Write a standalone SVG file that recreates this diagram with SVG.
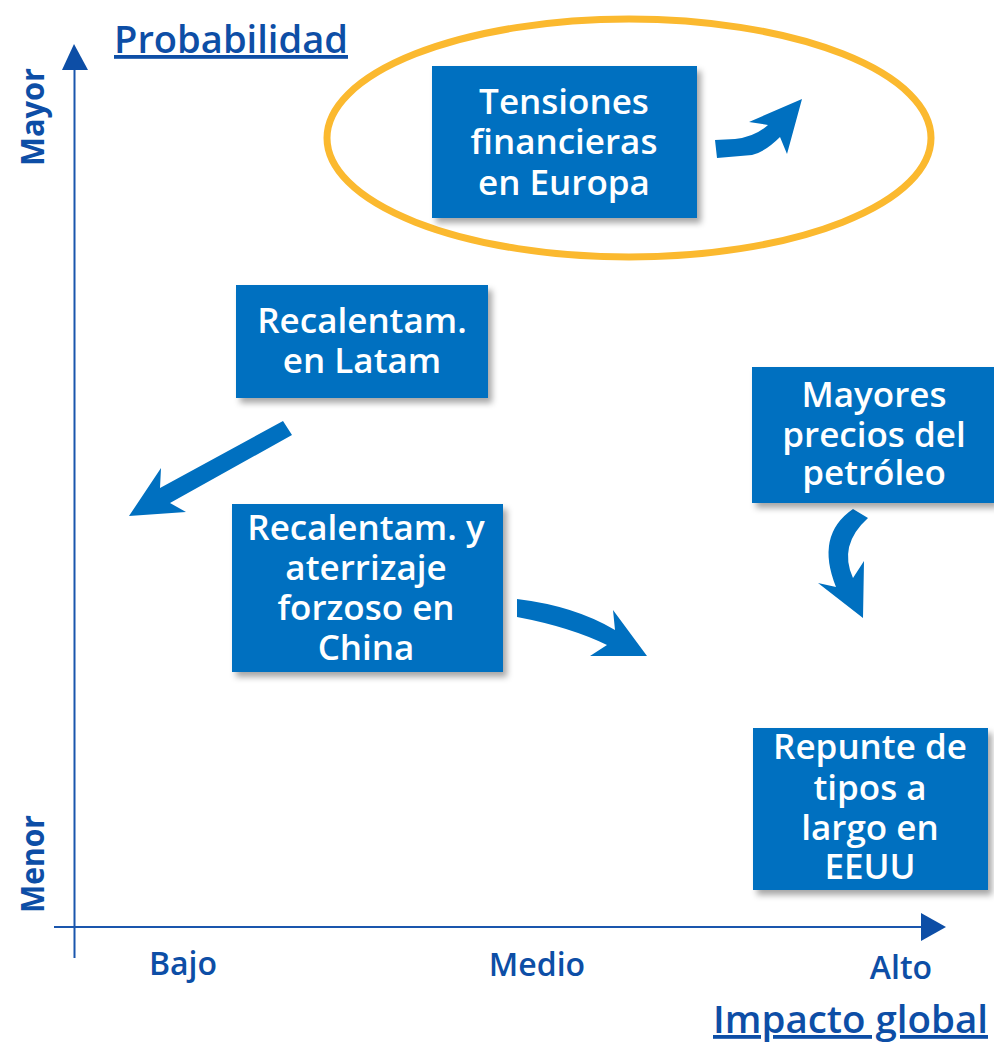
<svg xmlns="http://www.w3.org/2000/svg" width="994" height="1042" viewBox="0 0 994 1042">
<defs>
<style>
.box{fill:#0070C0;filter:url(#sh);}
.bt{font-family:"Open Sans","Noto Sans",sans-serif;font-weight:600;font-size:35px;fill:#ffffff;text-anchor:middle;}
.ax{font-family:"Open Sans","Noto Sans",sans-serif;font-weight:600;fill:#0D4EA6;}
.title{font-size:38px;text-decoration:underline;}
.tick{font-size:32px;text-anchor:middle;}
.side{font-size:32px;font-weight:700;}
.arr{fill:#0070C0;}
.axl{stroke:#1A56AD;stroke-width:2;fill:none;}
.axh{fill:#0D4EA6;}
</style>
<filter id="sh" x="-10%" y="-10%" width="125%" height="130%">
<feDropShadow dx="4" dy="5" stdDeviation="3" flood-color="#000000" flood-opacity="0.35"/>
</filter>
</defs>
<rect width="994" height="1042" fill="#ffffff"/>

<g id="axes">
<line class="axl" x1="74.5" y1="68" x2="74.5" y2="958"/>
<polygon class="axh" points="74,44 62,70 88,70"/>
<line class="axl" x1="54" y1="927" x2="924" y2="927"/>
<polygon class="axh" points="946,927 921,913 921,941"/>
<text class="ax title" x="114" y="53" textLength="234" lengthAdjust="spacingAndGlyphs">Probabilidad</text>
<text class="ax title" x="713" y="1033" textLength="275" lengthAdjust="spacingAndGlyphs">Impacto global</text>
<text class="ax side" transform="translate(44,166) rotate(-90)" textLength="98" lengthAdjust="spacingAndGlyphs">Mayor</text>
<text class="ax side" transform="translate(44,913) rotate(-90)" textLength="98" lengthAdjust="spacingAndGlyphs">Menor</text>
<text class="ax tick" x="183" y="975">Bajo</text>
<text class="ax tick" x="537" y="976">Medio</text>
<text class="ax tick" x="901" y="979">Alto</text>
</g>

<g id="highlight">
<ellipse cx="629" cy="138" rx="302" ry="119" fill="none" stroke="#FBB92F" stroke-width="7"/>
</g>

<g id="connectors">
<path class="arr" d="M715,140 L735,139 Q755,137 768,125 L749,122 L802,99 L787,154 L780,137 Q765,152 752,155 L717,158 Z"/>
<path class="arr" d="M283,421 L160,488 L161,468 L129,516 L186,512 L170,503 L292,435 Z"/>
<path class="arr" d="M517,599 Q575,606 615,630 L613,610 L647,656 L590,656 L607,645 Q570,627 517,617 Z"/>
<path class="arr" d="M853,509 Q815,535 836,587 L818,583 L863,618 L864,561 L853,578 Q838,545 868,518 Z"/>
</g>

<g id="node-europa">
<rect class="box" x="432" y="66" width="265" height="152"/>
<text class="bt" x="564" y="114">Tensiones</text>
<text class="bt" x="564" y="154">financieras</text>
<text class="bt" x="564" y="195">en Europa</text>
</g>

<g id="node-latam">
<rect class="box" x="236" y="285" width="252" height="113"/>
<text class="bt" x="362" y="333">Recalentam.</text>
<text class="bt" x="362" y="373">en Latam</text>
</g>

<g id="node-petroleo">
<rect class="box" x="752" y="367" width="242" height="136"/>
<text class="bt" x="874" y="407">Mayores</text>
<text class="bt" x="874" y="447">precios del</text>
<text class="bt" x="874" y="485">petróleo</text>
</g>

<g id="node-china">
<rect class="box" x="232" y="504" width="271" height="168"/>
<text class="bt" x="366" y="540">Recalentam. y</text>
<text class="bt" x="366" y="580">aterrizaje</text>
<text class="bt" x="366" y="620">forzoso en</text>
<text class="bt" x="366" y="660">China</text>
</g>

<g id="node-eeuu">
<rect class="box" x="753" y="728" width="235" height="162"/>
<text class="bt" x="870" y="759">Repunte de</text>
<text class="bt" x="870" y="800">tipos a</text>
<text class="bt" x="870" y="840">largo en</text>
<text class="bt" x="870" y="879">EEUU</text>
</g>
</svg>
